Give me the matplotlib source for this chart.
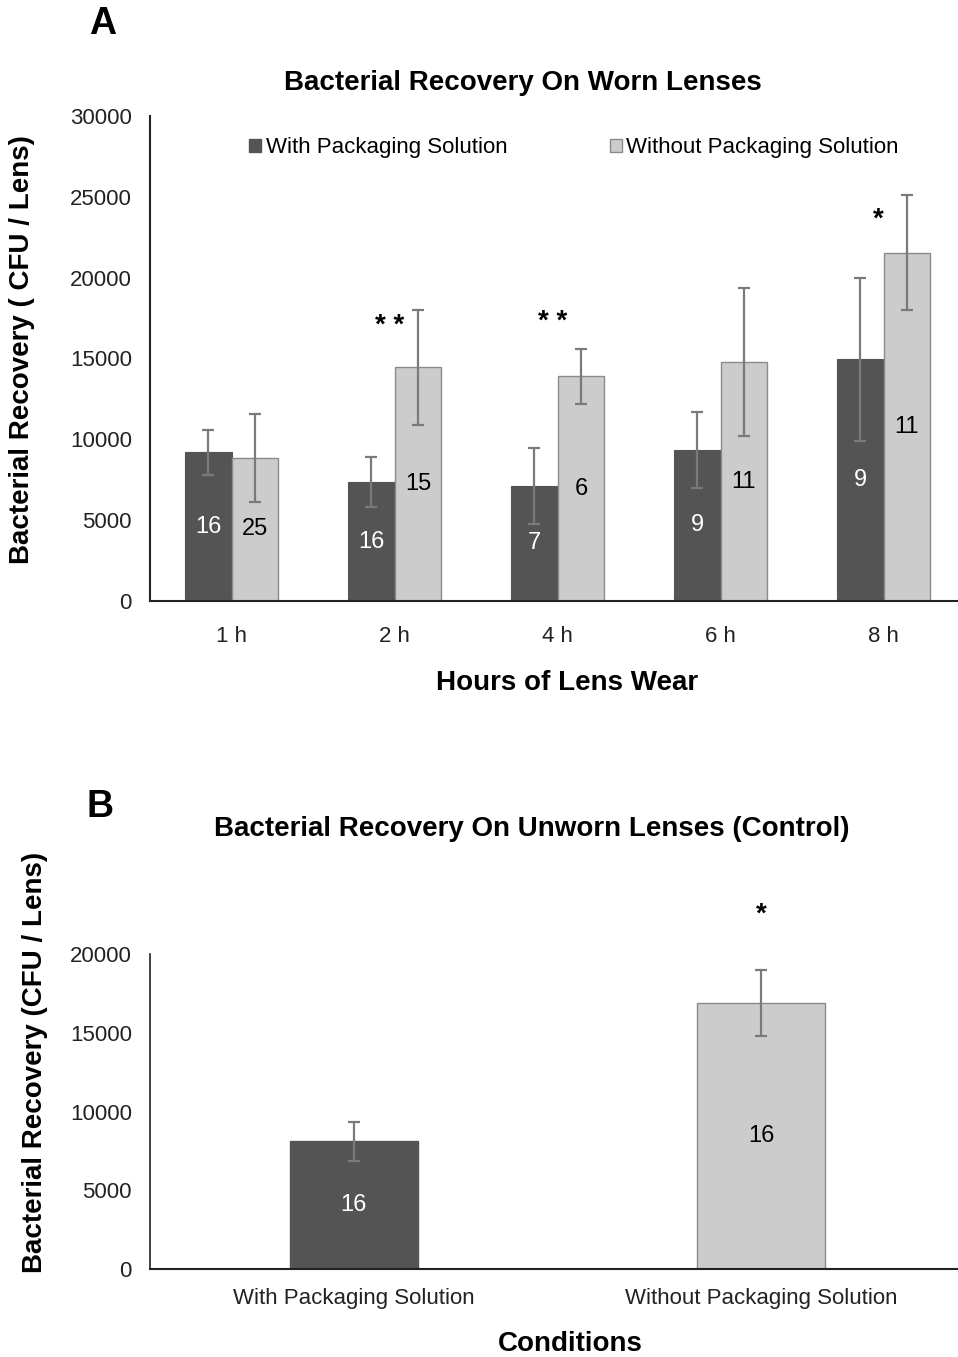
import matplotlib
matplotlib.use("Agg")
import matplotlib.pyplot as plt
import matplotlib.patches as patches
import numpy as np

plt.rcParams["font.family"] = ["Liberation Sans", "DejaVu Sans"]

# Panel A: worn lenses
hours = ["1 h", "2 h", "4 h", "6 h", "8 h"]
with_pkg = [9200, 7350, 7130, 9350, 14950]
with_pkg_err = [1400, 1550, 2350, 2350, 5050]
with_pkg_n = [16, 16, 7, 9, 9]
without_pkg = [8850, 14450, 13900, 14780, 21550]
without_pkg_err = [2700, 3550, 1700, 4550, 3550]
without_pkg_n = [25, 15, 6, 11, 11]
stars_a = ["", "* *", "* *", "", "*"]
stars_a_y = [0, 17000, 17250, 0, 23600]

# Panel B: unworn lenses (control)
conditions = ["With Packaging Solution", "Without Packaging Solution"]
control = [8100, 16900]
control_err = [1250, 2100]
control_n = [16, 16]
stars_b = ["", "*"]
stars_b_y = [0, 22500]

DARK = "#545454"
LIGHT = "#cccccc"
EDGE = "#8a8a8a"
ERR = "#7a7a7a"

W, H = 958, 1357
fig = plt.figure(figsize=(W / 100, H / 100), dpi=100)


def px(x, y):
    return x / W, 1 - y / H


def make_axes(left, top, right, bottom):
    x0, y1 = px(left, top)
    x1, y0 = px(right, bottom)
    return fig.add_axes([x0, y0, x1 - x0, y1 - y0])


def style_axes(ax):
    for s in ["top", "right"]:
        ax.spines[s].set_visible(False)
    for s in ["left", "bottom"]:
        ax.spines[s].set_linewidth(1.5)
        ax.spines[s].set_color("#222222")
    ax.tick_params(axis="both", length=0, labelsize=16, colors="#222222")
    ax.tick_params(axis="y", pad=13)
    ax.tick_params(axis="x", pad=18)


err_kw = dict(ecolor=ERR, elinewidth=1.6, capsize=4.5, capthick=1.6)

# ---- Panel A ----
axA = make_axes(150, 116, 965, 601)
x = np.arange(len(hours))
bw = 0.288
axA.bar(x - bw / 2, with_pkg, bw, color=DARK, edgecolor=DARK,
        linewidth=0.8, yerr=with_pkg_err, error_kw=err_kw, zorder=2)
axA.bar(x + bw / 2, without_pkg, bw, color=LIGHT, edgecolor=EDGE,
        linewidth=1.0, yerr=without_pkg_err, error_kw=err_kw, zorder=2)
axA.set_xlim(-0.5, 4.5)
axA.set_ylim(0, 30000)
axA.set_yticks(range(0, 30001, 5000))
axA.set_xticks(x)
axA.set_xticklabels(hours)
style_axes(axA)

for i in range(len(hours)):
    axA.text(x[i] - bw / 2, with_pkg[i] / 2, str(with_pkg_n[i]), color="white",
             ha="center", va="center", fontsize=17)
    axA.text(x[i] + bw / 2, without_pkg[i] / 2, str(without_pkg_n[i]), color="black",
             ha="center", va="center", fontsize=17)
    if stars_a[i]:
        axA.text(x[i] - 0.03, stars_a_y[i], stars_a[i], ha="center", va="center",
                 fontsize=20, fontweight="bold")

handles = [patches.Patch(facecolor=DARK, edgecolor=DARK, label="With Packaging Solution"),
           patches.Patch(facecolor=LIGHT, edgecolor=EDGE, label="Without Packaging Solution")]
fig.legend(handles=handles, loc="center", bbox_to_anchor=px(574, 148), ncol=2,
           frameon=False, fontsize=16, handlelength=0.55, handleheight=0.55,
           handletextpad=0.2, columnspacing=4.6)

fig.text(*px(103, 24), "A", fontsize=27, fontweight="bold", ha="center", va="center")
fig.text(*px(523, 83), "Bacterial Recovery On Worn Lenses", fontsize=20,
         fontweight="bold", ha="center", va="center")
fig.text(*px(567, 683), "Hours of Lens Wear", fontsize=20,
         fontweight="bold", ha="center", va="center")
fig.text(*px(22, 350), "Bacterial Recovery ( CFU / Lens)", fontsize=20,
         fontweight="bold", ha="center", va="center", rotation=90)

# ---- Panel B ----
axB = make_axes(150, 954, 965, 1269)
xb = np.arange(len(conditions))
bwb = 0.315
cols = [DARK, LIGHT]
edges = [DARK, EDGE]
axB.bar(xb, control, bwb, color=cols, edgecolor=edges, linewidth=1.0,
        yerr=control_err, error_kw=err_kw, zorder=2)
axB.set_xlim(-0.5, 1.5)
axB.set_ylim(0, 20000)
axB.set_yticks(range(0, 20001, 5000))
axB.set_xticks(xb)
axB.set_xticklabels(conditions)
style_axes(axB)
axB.tick_params(axis="x", pad=14)
axB.spines["left"].set_linewidth(1.2)

txt_cols = ["white", "black"]
for i in range(len(conditions)):
    axB.text(xb[i], control[i] / 2, str(control_n[i]), color=txt_cols[i],
             ha="center", va="center", fontsize=17)
    if stars_b[i]:
        axB.text(xb[i], stars_b_y[i], stars_b[i], ha="center", va="center",
                 fontsize=20, fontweight="bold", clip_on=False)

fig.text(*px(100, 807), "B", fontsize=27, fontweight="bold", ha="center", va="center")
fig.text(*px(532, 829), "Bacterial Recovery On Unworn Lenses (Control)", fontsize=20,
         fontweight="bold", ha="center", va="center")
fig.text(*px(570, 1344), "Conditions", fontsize=20,
         fontweight="bold", ha="center", va="center")
fig.text(*px(35, 1062), "Bacterial Recovery (CFU / Lens)", fontsize=20,
         fontweight="bold", ha="center", va="center", rotation=90)

fig.savefig("out.png", dpi=100, facecolor="white")
